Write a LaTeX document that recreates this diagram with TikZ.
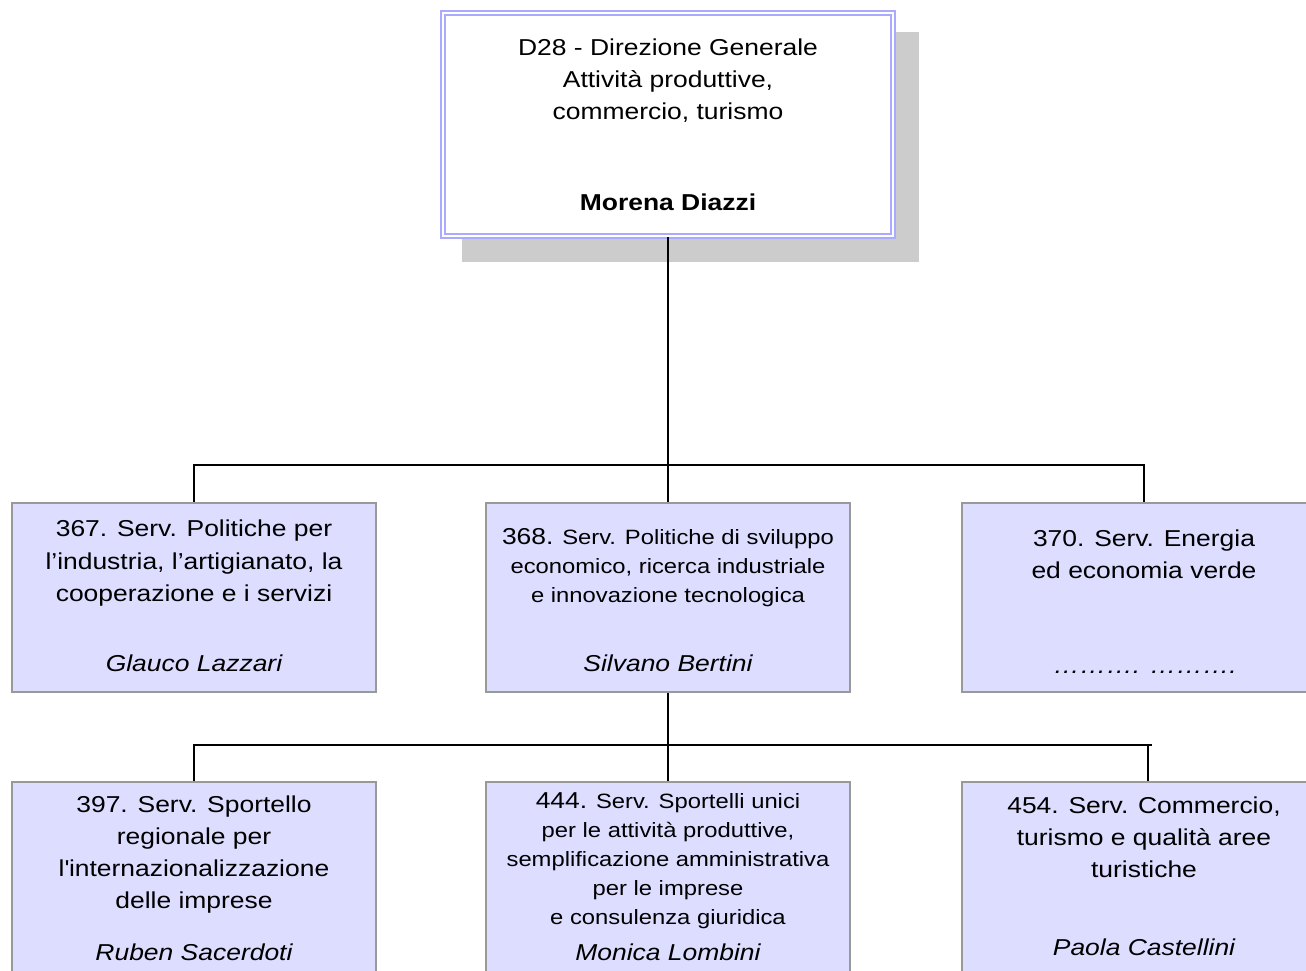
\documentclass[tikz,border=0pt]{standalone}
\usepackage{fontspec}
\setmainfont{Liberation Sans}[FakeStretch=1.15]
\newcommand\fsz[1]{\fontsize{#1}{#1}\selectfont}
\definecolor{lav}{HTML}{AAAAFF}
\definecolor{boxfill}{HTML}{DDDDFF}
\definecolor{boxline}{HTML}{999999}
\definecolor{shadowc}{HTML}{CCCCCC}
\tikzset{
  unitbox/.style={draw=boxline, line width=1.5, fill=boxfill, inner sep=0, minimum width=364},
  lvlone/.style={unitbox, minimum height=189},
  lvltwo/.style={unitbox, minimum height=200},
  mtxt/.style={anchor=base, inner sep=0, font=\fsz{23}},
  stxt/.style={anchor=base, inner sep=0, font=\fsz{20.7}},
  conn/.style={draw=black, line width=1.8},
}
\begin{document}
\begin{tikzpicture}[x=1pt,y=-1pt]
\useasboundingbox (0,0) rectangle (1306,970);
% top box with shadow
\fill[shadowc] (462,32) rectangle (919,262);
\node[draw=lav, line width=2.4, double=white, double distance=1.8, fill=white,
      minimum width=450, minimum height=223, inner sep=0] (top) at (668,124.5) {};
\node[mtxt] (t0a) at (668,55) {D28 - Direzione Generale};
\node[mtxt] (t0b) at (668,87) {Attività produttive,};
\node[mtxt] (t0c) at (668,119) {commercio, turismo};
\node[mtxt, font=\fsz{23}\bfseries] (t0d) at (668,210) {Morena Diazzi};

% level 1 boxes
\node[lvlone] (b367) at (194,597.5) {};
\node[lvlone] (b368) at (668,597.5) {};
\node[lvlone] (b370) at (1144,597.5) {};
% level 2 boxes
\node[lvltwo] (b397) at (194,882) {};
\node[lvltwo] (b444) at (668,882) {};
\node[lvltwo] (b454) at (1144,882) {};

% connectors
\coordinate (j1) at (668,465);
\coordinate (j2) at (668,745);
\coordinate (e2) at (1152,745);
\coordinate (d454) at (1148,745);
\draw[conn] (top.south) -- (j1);
\draw[conn] (b367.north) |- (j1) -| (b370.north);
\draw[conn] (j1) -- (b368.north);
\draw[conn] (b368.south) -- (j2);
\draw[conn] (b397.north) |- (j2) -- (e2);
\draw[conn] (j2) -- (b444.north);
\draw[conn] (d454) -- (d454 |- b454.north);

% texts level 1
\node[mtxt] (t1a) at (194,536) {367. Serv. Politiche per};
\node[mtxt] (t1b) at (194,569) {l’industria, l’artigianato, la};
\node[mtxt] (t1c) at (194,601) {cooperazione e i servizi};
\node[mtxt, font=\fsz{23}\itshape] (t1d) at (194,671) {Glauco Lazzari};

\node[stxt] (t2a) at (668,544) {{\fsz{23}368.} Serv. Politiche di sviluppo};
\node[stxt] (t2b) at (668,573) {economico, ricerca industriale};
\node[stxt] (t2c) at (668,602) {e innovazione tecnologica};
\node[mtxt, font=\fsz{23}\itshape] (t2d) at (668,671) {Silvano Bertini};

\node[mtxt] (t3a) at (1144,546) {370. Serv. Energia};
\node[mtxt] (t3b) at (1144,578) {ed economia verde};
\node[mtxt, font=\fsz{23}\itshape] (t3c) at (1145,673) {………. ……….};

% texts level 2
\node[mtxt] (t4a) at (194,812) {397. Serv. Sportello};
\node[mtxt] (t4b) at (194,844) {regionale per};
\node[mtxt] (t4c) at (194,876) {l\textquotesingle internazionalizzazione};
\node[mtxt] (t4d) at (194,908) {delle imprese};
\node[mtxt, font=\fsz{23}\itshape] (t4e) at (194,960) {Ruben Sacerdoti};

\node[stxt] (t5a) at (668,808) {{\fsz{23}444.} Serv. Sportelli unici};
\node[stxt] (t5b) at (668,837) {per le attività produttive,};
\node[stxt] (t5c) at (668,866) {semplificazione amministrativa};
\node[stxt] (t5d) at (668,895) {per le imprese};
\node[stxt] (t5e) at (668,924) {e consulenza giuridica};
\node[mtxt, font=\fsz{23}\itshape] (t5f) at (668,960) {Monica Lombini};

\node[mtxt] (t6a) at (1144,813) {454. Serv. Commercio,};
\node[mtxt] (t6b) at (1144,845) {turismo e qualità aree};
\node[mtxt] (t6c) at (1144,877) {turistiche};
\node[mtxt, font=\fsz{23}\itshape] (t6d) at (1144,955) {Paola Castellini};
\end{tikzpicture}
\end{document}
